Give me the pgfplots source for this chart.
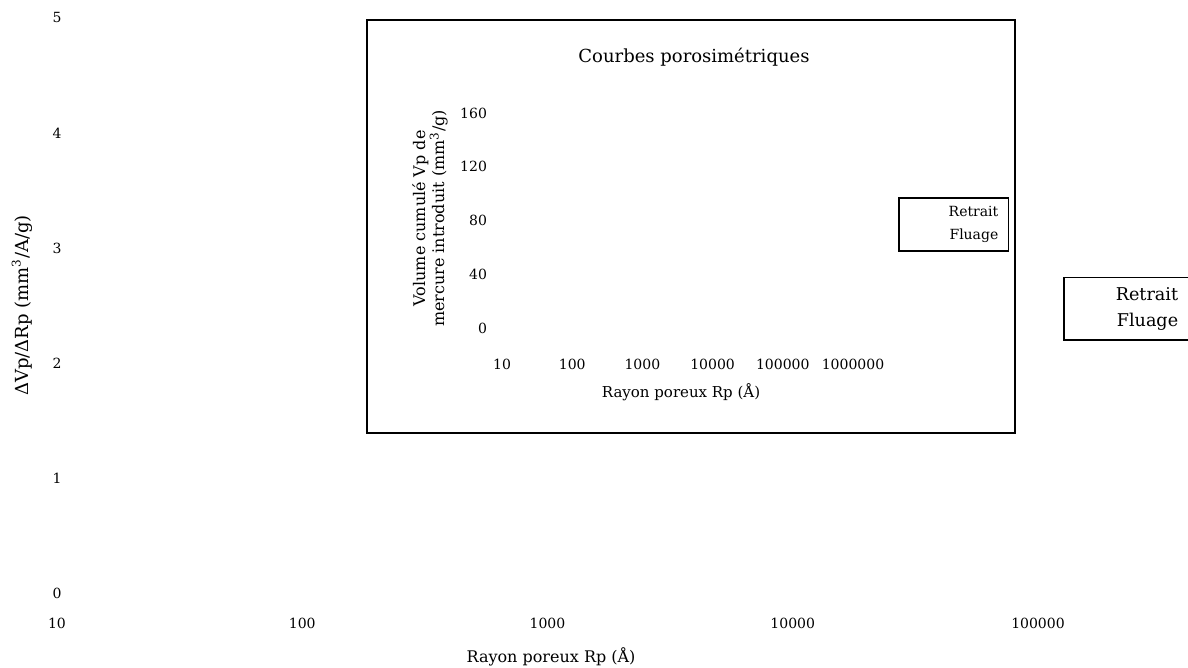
\documentclass[border=0pt]{standalone}
\usepackage{fontspec}
\setmainfont{DejaVu Serif}
\usepackage{pgfplots}
\pgfplotsset{compat=1.18}

% courbes effacees au scan : series gardees, traits invisibles
\pgfplotstableread{
Rp   retrait fluage
20   0.02    0.01
50   0.12    0.05
80   0.20    0.10
150  0.06    0.04
1000 0.01    0.01
}\distrib
\pgfplotstableread{
Rp      retrait fluage
10      0       0
1000    2       1
10000   8       4
100000  10      6
1000000 12      8
}\cumul

\pgfplotsset{
    noline/.style={legend image code/.code={\path (0pt,0pt) -- (20pt,0pt);}},
}

\begin{document}
\begin{tikzpicture}
\useasboundingbox (0,0) rectangle (594pt,334pt);

\begin{axis}[
    at={(28.5pt,37.5pt)}, anchor=south west,
    scale only axis, width=490.5pt, height=287.5pt,
    xmode=log, log basis x=10,
    xmin=10, xmax=100000, ymin=0, ymax=5,
    clip=false,
    axis line style={draw=none},
    major tick style={draw=none}, minor tick style={draw=none},
    xtick={10,100,1000,10000,100000},
    xticklabels={10,100,1000,10000,100000},
    ytick={0,1,2,3,4,5},
    /pgf/number format/assume math mode=true,
    tick label style={font=\fontsize{7}{8}\selectfont},
    yticklabel style={anchor=center},
    xticklabel style={yshift=-9pt},
    xlabel={Rayon poreux Rp (Å)},
    ylabel={ΔVp/ΔRp (mm\textsuperscript{3}/A/g)},
    xlabel style={at={(axis description cs:0.5036,-0.111)}, anchor=center,
        font=\fontsize{8}{9}\selectfont},
    ylabel style={at={(axis description cs:-0.0357,0.5)}, anchor=center,
        font=\fontsize{9}{10}\selectfont},
    legend style={at={(1.0255,0.55)}, anchor=north west, draw=black,
        line width=0.8pt, font=\fontsize{8.8}{10}\selectfont,
        row sep=1pt, inner xsep=4pt, inner ysep=3pt},
    legend cell align=right,
]
\addplot[draw=none, noline] table[x=Rp, y=retrait] {\distrib};
\addplot[draw=none, noline] table[x=Rp, y=fluage] {\distrib};
\legend{Retrait, Fluage}
\end{axis}

% cadre du graphique insere
\draw[line width=0.8pt] (183.5pt,324pt) rectangle (507.5pt,117.5pt);

\begin{axis}[
    at={(251pt,170pt)}, anchor=south west,
    scale only axis, width=175.5pt, height=107.5pt,
    xmode=log, log basis x=10,
    xmin=10, xmax=1000000, ymin=0, ymax=160,
    clip=false,
    axis line style={draw=none},
    major tick style={draw=none}, minor tick style={draw=none},
    xtick={10,100,1000,10000,100000,1000000},
    xticklabels={10,100,1000,10000,100000,1000000},
    ytick={0,40,80,120,160},
    /pgf/number format/assume math mode=true,
    tick label style={font=\fontsize{7}{8}\selectfont},
    yticklabel style={xshift=-4pt},
    xticklabel style={yshift=-12pt},
    every axis title shift=0pt,
    title={Courbes porosimétriques},
    title style={at={(axis description cs:0.547,1.26)}, anchor=center,
        font=\fontsize{9}{10}\selectfont},
    xlabel={Rayon poreux Rp (Å)},
    ylabel={Volume cumulé Vp de\\mercure introduit (mm\textsuperscript{3}/g)},
    xlabel style={at={(axis description cs:0.51,-0.298)}, anchor=center,
        font=\fontsize{7.5}{8}\selectfont},
    ylabel style={at={(axis description cs:-0.205,0.51)}, anchor=center,
        align=center, font=\fontsize{8}{9.5}\selectfont},
    legend style={at={(1.128,0.609)}, anchor=north west, draw=black,
        line width=0.8pt, font=\fontsize{7}{8}\selectfont,
        row sep=1pt, inner xsep=3pt, inner ysep=2pt},
    legend cell align=right,
]
\addplot[draw=none, noline] table[x=Rp, y=retrait] {\cumul};
\addplot[draw=none, noline] table[x=Rp, y=fluage] {\cumul};
\legend{Retrait, Fluage}
\end{axis}
\end{tikzpicture}
\end{document}
